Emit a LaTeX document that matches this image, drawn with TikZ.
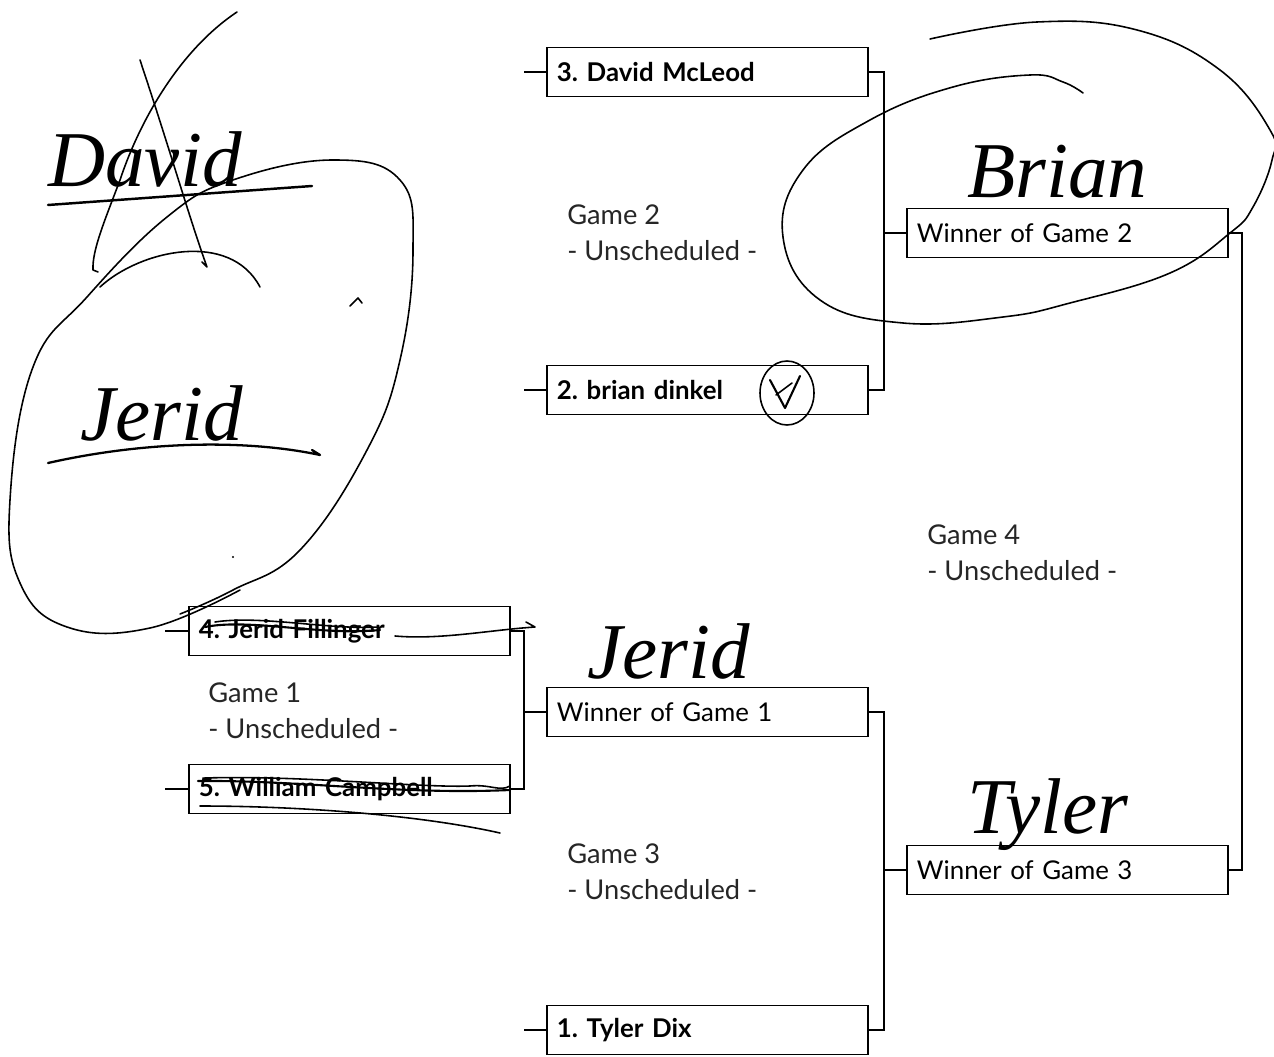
\documentclass[tikz,border=0pt]{standalone}
\usepackage{fontspec}
\setmainfont{Lato}
\newfontfamily\handfont{Liberation Serif}
\usetikzlibrary{positioning}
\frenchspacing

\tikzset{
  slot/.style={draw, line width=1.1pt, anchor=west, minimum width=6.42cm,
               minimum height=0.98cm, text width=6.02cm, inner xsep=0.2cm,
               align=left, font=\fontsize{14.7}{17}\selectfont},
  seed/.style={slot, font=\fontsize{14.7}{17}\selectfont\bfseries},
  link/.style={line width=1.1pt},
  gamelabel/.style={anchor=west, align=left, inner sep=0pt,
                    font=\fontsize{15.5}{20.4}\selectfont, text=black!85},
  ink/.style={line width=0.9pt, line cap=round, line join=round},
  scrawl/.style={anchor=base west, inner sep=0pt,
                 font=\handfont\itshape\fontsize{45}{45}\selectfont},
}

\begin{document}
\begin{tikzpicture}[x=0.02cm, y=-0.02cm]
  \useasboundingbox (0,0) rectangle (1274,1057);

  % Entries
  \node[seed] (p3) at (546,72) {3. David McLeod};
  \node[seed] (p2) at (546,390) {2. brian dinkel};
  \node[seed] (p4) at (188,631) {4. Jerid Fillinger};
  \node[seed] (p5) at (188,789) {5. William Campbell};
  \node[slot] (w1) at (546,712) {Winner of Game 1};
  \node[seed] (p1) at (546,1030) {1. Tyler Dix};
  \node[slot] (w2) at (906,233) {Winner of Game 2};
  \node[slot] (w3) at (906,870) {Winner of Game 3};

  % Games
  \node[gamelabel] (lab1) at (208,711) {Game 1\\- Unscheduled -};
  \node[gamelabel] (lab2) at (567,233) {Game 2\\- Unscheduled -};
  \node[gamelabel] (lab3) at (567,872) {Game 3\\- Unscheduled -};
  \node[gamelabel] (lab4) at (927,553) {Game 4\\- Unscheduled -};

  % Bracket joints
  \coordinate (j1) at (524,712);
  \coordinate (j2) at (884,233);
  \coordinate (j3) at (884,870);
  \coordinate (j4) at (1242,550);

  \draw[link] (p4.east) -| (j1) |- (p5.east);
  \draw[link] (j1) -- (w1.west);
  \draw[link] (p3.east) -| (j2) |- (p2.east);
  \draw[link] (j2) -- (w2.west);
  \draw[link] (w1.east) -| (j3) |- (p1.east);
  \draw[link] (j3) -- (w3.west);
  \draw[link] (w2.east) -| (j4) |- (w3.east);

  % Lead-in stubs
  \foreach \p in {p1,p2,p3,w1}
    \draw[link] (\p.west) -- ++(-22,0);
  \foreach \p in {p4,p5}
    \draw[link] (\p.west) -- ++(-23,0);

  % Handwritten notes
  \node[scrawl] (hdavid) at (48,187) {David};
  \node[scrawl] (hjerid) at (80,440) {Jerid};
  \node[scrawl] (hbrian) at (967,198) {Brian};
  \node[scrawl] (hjerid2) at (587,678) {Jerid};
  \node[scrawl] (htyler) at (967,833) {Tyler};

  % David crossed out
  \draw[ink, line width=1.4pt] (48,205) -- (312,186);
  \draw[ink] (140,60) .. controls (170,150) and (190,220) .. (207,267) -- (202,262);
  \draw[ink] (237,12) .. controls (180,50) and (140,120) .. (120,180)
             .. controls (105,220) and (92,250) .. (93,270) -- (98,272);
  \draw[ink] (100,287) .. controls (140,250) and (230,230) .. (260,287);

  % Jerid loop
  \draw[ink] plot[smooth, tension=0.7] coordinates {
    (240,590) (150,628) (67,627) (20,583) (10,500) (33,367) (87,297)
    (167,217) (233,180) (333,160) (400,180) (413,250) (400,360)
    (367,450) (300,550) (233,590) (180,614)};
  \draw[ink, line width=1.3pt] (48,463) .. controls (150,440) and (250,440) .. (320,455)
                               -- (312,450);
  \draw[ink] (350,306) -- (358,298) -- (362,303);
  \fill (233,557) circle (1.2);

  % Strike-through of game 1 players
  \draw[ink, line width=1.2pt] (205,627) .. controls (250,618) and (320,636) .. (380,630);
  \draw[ink] (215,622) .. controls (260,615) and (330,630) .. (378,627);
  \draw[ink] (395,636) .. controls (440,640) and (490,630) .. (535,627)
             -- (526,622);
  \draw[ink, line width=1.2pt] (198,781) .. controls (300,780) and (400,795) .. (510,790);
  \draw[ink] (205,778) .. controls (300,775) and (420,788) .. (470,786)
             .. controls (490,784) and (500,792) .. (510,786);
  \draw[ink] (200,806) .. controls (300,806) and (420,815) .. (500,833);

  % Brian loop
  \draw[ink] plot[smooth, tension=0.7] coordinates {
    (930,39) (1037,22) (1137,30) (1220,70) (1270,130) (1272,160)
    (1253,207) (1230,233) (1170,273) (1070,303) (1003,317) (903,323)
    (820,300) (783,237) (803,170) (870,120) (953,87) (1030,75)
    (1063,82) (1083,93)};

  % Tick next to brian dinkel
  \draw[ink] (787,393) ellipse (27 and 32);
  \draw[ink, line width=1.2pt] (770,380) -- (785,408) -- (800,376);
  \draw[ink] (776,395) -- (792,383);
\end{tikzpicture}
\end{document}
